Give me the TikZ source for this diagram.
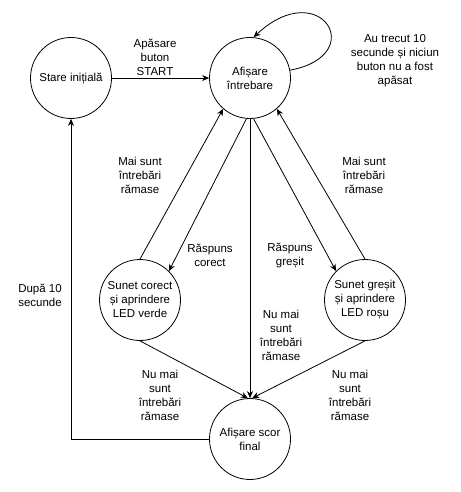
\documentclass[tikz,border=0pt]{standalone}
\usepackage{fontspec}
\setmainfont{Liberation Sans}
\usepackage{tikz}
\usetikzlibrary{arrows.meta}

\begin{document}
\begin{tikzpicture}[x=1pt,y=-1pt,line width=0.8pt]
      \tikzstyle{every node} = [inner sep = 0pt, align=center, font=\fontsize{11.5}{14}\selectfont];
      \tikzstyle{state} = [draw, circle, minimum size=81pt, fill=white];
      \useasboundingbox (0,0) rectangle (460,492);
      \begin{scope}
        % states
        \node(init) [state] at (71,78) {Stare inițială};
        \node(intr) [state] at (250,78) {Afișare\\întrebare};
        \node(cor) [state] at (140,300) {Sunet corect\\și aprindere\\LED verde};
        \node(gre) [state] at (365,300) {Sunet greșit\\și aprindere\\LED roșu};
        \node(scor) [state] at (250,439) {Afișare scor\\final};
        % labels
        \node(lstart) at (155,57) {Apăsare\\buton\\START};
        \node(lbucla) at (395,61) {Au trecut 10\\secunde și niciun\\buton nu a fost\\apăsat};
        \node(lmaicor) at (140,175) {Mai sunt\\întrebări\\rămase};
        \node(lmaigre) at (364,175) {Mai sunt\\întrebări\\rămase};
        \node(lrcor) at (210,255) {Răspuns\\corect};
        \node(lrgre) at (290,255) {Răspuns\\greșit};
        \node(lnumij) at (281,335) {Nu mai\\sunt\\întrebări\\rămase};
        \node(lnucor) at (160,395) {Nu mai\\sunt\\întrebări\\rămase};
        \node(lnugre) at (350,395) {Nu mai\\sunt\\întrebări\\rămase};
        \node(ldupa) at (40,295) {După 10\\secunde};
        % transitions
        \path[->,>={Stealth[length=7pt,width=6pt]}]
        (init) edge (intr)
        (cor.90) edge (intr.229)
        (intr.265) edge (cor.45)
        (intr.275) edge (gre.135)
        (gre.90) edge (intr.311)
        (intr.south) edge (scor.north)
        (cor.south) edge (scor.93)
        (gre.south) edge (scor.87);
        \draw[->,>={Stealth[length=7pt,width=6pt]}]
        (intr.11) .. controls (370,55) and (320,-25) .. (intr.85);
        \draw[->,>={Stealth[length=7pt,width=6pt]}]
        (scor.west) -| (init.south);
      \end{scope}
    \end{tikzpicture}
\end{document}
